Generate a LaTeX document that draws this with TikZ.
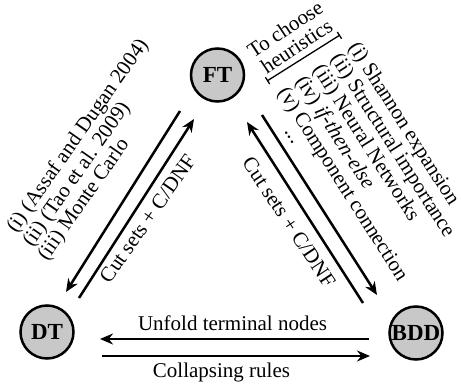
\documentclass[tikz,border=0pt]{standalone}
\usepackage{fontspec}
\setmainfont{Liberation Serif}
\usetikzlibrary{arrows.meta}
\definecolor{nodegray}{RGB}{200,200,200}
\begin{document}
\begin{tikzpicture}[x=1pt,y=-1pt,
  state/.style={circle, draw, line width=2.5pt, fill=nodegray, minimum size=53pt, inner sep=0pt,
    font=\fontsize{23}{23}\selectfont\bfseries},
  conn/.style={line width=2.5pt, -{Stealth[length=13pt,width=11pt]}},
  lbl/.style={font=\fontsize{21}{21}\selectfont, inner sep=0pt},
  brk/.style={line width=1.3pt, {Bar[width=8pt]}-{Bar[width=8pt]}},
]
\useasboundingbox (0,0) rectangle (461,385);
% nodes
\node[state] (FT)  at (217.5,75) {FT};
\node[state] (DT)  at (47,332)   {DT};
\node[state] (BDD) at (416,333)  {BDD};
% connector end points
\coordinate (l1s) at (180,111); \coordinate (l1e) at (66,292);
\coordinate (l2s) at (79,298);  \coordinate (l2e) at (194,119);
\coordinate (r1s) at (262,115); \coordinate (r1e) at (377,295);
\coordinate (r2s) at (363,303); \coordinate (r2e) at (247,122);
\coordinate (b1s) at (369,339); \coordinate (b1e) at (100,339);
\coordinate (b2s) at (102,356); \coordinate (b2e) at (370,356);
% connectors
\draw[conn] (l1s) -- (l1e);
\draw[conn] (l2s) -- (l2e);
\draw[conn] (r1s) -- (r1e);
\draw[conn] (r2s) -- (r2e);
\draw[conn] (b1s) -- (b1e);
\draw[conn] (b2s) -- (b2e);
% bottom labels
\node[lbl, anchor=base] (unf) at (232.5,330) {Unfold terminal nodes};
\node[lbl, anchor=base] (col) at (221.5,377) {Collapsing rules};
% left labels
\node[lbl, rotate=55] (lcut) at (147.5,218.5) {Cut sets + C/DNF};
\node[lbl, rotate=55, anchor=base west] (la1) at (16,234) {(i) (Assaf and Dugan 2004)};
\node[lbl, rotate=55, anchor=base west] (la2) at (32,248) {(ii) (Tao et al. 2009)};
\node[lbl, rotate=55, anchor=base west] (la3) at (47,262) {(iii) Monte Carlo};
% right labels
\node[lbl, rotate=-56.5] (rcut) at (289,222) {Cut sets + C/DNF};
\node[lbl, rotate=-57.5, anchor=base west] (ra1) at (348,47)    {(i) Shannon expansion};
\node[lbl, rotate=-57.5, anchor=base west] (ra2) at (330.3,58.3) {(ii) Structural importance};
\node[lbl, rotate=-57.5, anchor=base west] (ra3) at (312.6,69.6) {(iii) Neural Networks};
\node[lbl, rotate=-57.5, anchor=base west] (ra4) at (294.9,80.9) {(iv) \textit{if-then-else}};
\node[lbl, rotate=-57.5, anchor=base west] (ra5) at (277.2,92.2) {(v) Component connection};
\node[lbl, rotate=-57.5, anchor=base west] (ra6) at (284,131)   {...};
% bracket
\coordinate (bk1) at (267,81);
\coordinate (bk2) at (340,35);
\draw[brk] (bk1) -- (bk2);
\node[lbl, rotate=33.5, anchor=base] (h2) at (300.5,52) {heuristics};
\node[lbl, rotate=33.5, anchor=base] (h1) at (289,35) {To choose};
\end{tikzpicture}
\end{document}
